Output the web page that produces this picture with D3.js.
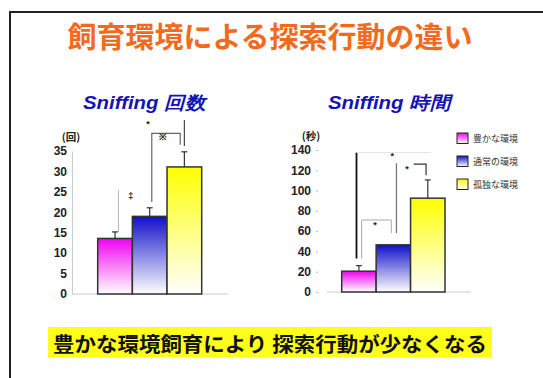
<!DOCTYPE html>
<html><head><meta charset="utf-8">
<script src="https://cdn.jsdelivr.net/npm/d3@7"></script>
<style>
html,body{margin:0;padding:0;background:#fff;}
svg{display:block;}
</style></head>
<body>
<svg id="c" width="543" height="378"></svg>
<script>
// ---------- data ----------
const mainTitle = "飼育環境による探索行動の違い";
const conclusion = "豊かな環境飼育により 探索行動が少なくなる";
const groups = ["豊かな環境", "通常の環境", "孤独な環境"];
const countTitle = "Sniffing 回数";
const countUnit = "(回)";
const countValues = [13.6, 19.0, 31.1];
const countErrors = [1.6, 2.1, 3.7];
const countTicks = [0, 5, 10, 15, 20, 25, 30, 35];
const timeTitle = "Sniffing 時間";
const timeUnit = "(秒)";
const timeValues = [20.5, 46.5, 92.5];
const timeErrors = [5.5, 0, 18];
const timeTicks = [0, 20, 40, 60, 80, 100, 120, 140];
// significance annotations: polyline points [groupIndex, fractionWithinBar, value]
const countLines = [
  {pts: [[0, 0.6, 15.2], [0, 0.6, 25.5]], c: "#bbb", w: 1},
  {pts: [[1, 0.56, 22.5], [1, 0.56, 39.3], [2, 0.38, 39.3], [2, 0.38, 36.5]], c: "#666", w: 1.2},
  {pts: [[2, 0.5, 36.2], [2, 0.5, 42.6]], c: "#444", w: 1.2}
];
const countMarks = [[0, 0.95, 24.0, "‡"], [1, 0.45, 41.6, "*"], [1, 0.89, 38.4, "※"]];
const timeLines = [
  {pts: [[0, 0.43, 33], [0, 0.43, 137.5]], c: "#111", w: 1.8},
  {pts: [[0, 0.43, 137.5], [2, 0.58, 137.5]], c: "#e4e4e4", w: 1},
  {pts: [[0, 0.58, 33], [0, 0.58, 71], [1, 0.44, 71], [1, 0.44, 58]], c: "#aaa", w: 1},
  {pts: [[1, 0.59, 58], [1, 0.59, 127]], c: "#777", w: 1.3},
  {pts: [[2, 0.09, 126], [2, 0.45, 126], [2, 0.45, 115]], c: "#333", w: 1.2}
];
const timeMarks = [[0, 0.97, 66, "*"], [1, 0.47, 134, "*"], [1, 0.9, 121, "*"]];
const colors = ["#f000f0", "#1010c8", "#ffff00"];

// ---------- drawing ----------
const svg = d3.select("#c");
const defs = svg.append("defs");
colors.forEach((c, i) => {
  const g = defs.append("linearGradient").attr("id", "g" + i)
    .attr("x1", 0).attr("y1", 0).attr("x2", 0).attr("y2", 1);
  g.append("stop").attr("offset", "0%").attr("stop-color", c);
  g.append("stop").attr("offset", "100%").attr("stop-color", "#ffffff");
});

// frame
svg.append("path").attr("d", "M10,378 L10,12 L543,12")
  .attr("fill", "none").attr("stroke", "#222").attr("stroke-width", 2);

svg.append("text").attr("x", 270).attr("y", 48).attr("text-anchor", "middle")
  .attr("font-family", "'Noto Sans CJK JP'").attr("font-weight", "bold")
  .attr("font-size", 29).attr("fill", "#f26a1e").text(mainTitle);

const numFont = "'Liberation Sans', Arial, sans-serif";

function chart(o) {
  const x = d3.scaleBand().domain(d3.range(groups.length)).range(o.xr).padding(0);
  const y = d3.scaleLinear().domain([0, o.ticks[o.ticks.length - 1]]).range(o.yr);
  const g = svg.append("g");
  const px = (p) => x(p[0]) + p[1] * x.bandwidth();

  g.append("text").attr("x", o.titleX).attr("y", 109).attr("text-anchor", "middle")
    .attr("font-family", numFont).attr("font-style", "italic").attr("font-weight", "bold")
    .attr("font-size", 18).attr("fill", "#1414b4")
    .attr("textLength", 122).attr("lengthAdjust", "spacingAndGlyphs").text(o.title);

  // axes
  const ax = d3.axisLeft(y).tickValues(o.ticks).tickSize(o.tickSize).tickPadding(o.tickPad);
  const ag = g.append("g").attr("transform", `translate(${o.axisX},0)`).call(ax);
  ag.select(".domain").attr("stroke", o.showDomain ? "#ccc" : "none");
  ag.selectAll(".tick line").attr("stroke", "#bbb");
  ag.selectAll(".tick text").attr("font-family", numFont).attr("font-weight", "bold")
    .attr("font-size", 12).attr("fill", "#222");
  g.append("line").attr("x1", o.baseX[0]).attr("x2", o.baseX[1])
    .attr("y1", y(0)).attr("y2", y(0)).attr("stroke", "#ccc");
  g.append("text").attr("x", o.unitX).attr("y", y(o.ticks[o.ticks.length - 1]) - 10)
    .attr("text-anchor", "middle").attr("font-family", "'Noto Sans CJK JP'")
    .attr("font-weight", "bold").attr("font-size", 10.5).attr("fill", "#222").text(o.unit);

  // annotation lines
  o.lines.forEach(l => {
    g.append("path").attr("d", d3.line().x(px).y(p => y(p[2]))(l.pts))
      .attr("fill", "none").attr("stroke", l.c).attr("stroke-width", l.w);
  });
  o.marks.forEach(m => {
    g.append("text").attr("x", px(m)).attr("y", y(m[2])).attr("text-anchor", "middle")
      .attr("dominant-baseline", "central").attr("font-family", numFont)
      .attr("font-weight", "bold").attr("font-size", 9).attr("fill", "#222").text(m[3]);
  });

  // error bars
  o.values.forEach((v, i) => {
    if (!o.errors[i]) return;
    const cx = x(i) + x.bandwidth() / 2;
    g.append("line").attr("x1", cx).attr("x2", cx).attr("y1", y(v)).attr("y2", y(v + o.errors[i]))
      .attr("stroke", "#333").attr("stroke-width", 1.2);
    g.append("line").attr("x1", cx - 3).attr("x2", cx + 3)
      .attr("y1", y(v + o.errors[i])).attr("y2", y(v + o.errors[i]))
      .attr("stroke", "#333").attr("stroke-width", 1.2);
  });
  // bars
  g.selectAll("rect.bar").data(o.values).join("rect").attr("class", "bar")
    .attr("x", (d, i) => x(i)).attr("width", x.bandwidth())
    .attr("y", d => y(d)).attr("height", d => y(0) - y(d))
    .attr("fill", (d, i) => `url(#g${i})`).attr("stroke", "#333").attr("stroke-width", 1.5);
}

chart({xr: [97.7, 201.7], yr: [294, 151], ticks: countTicks, values: countValues,
  errors: countErrors, title: countTitle, titleX: 144, unit: countUnit, unitX: 71,
  axisX: 72, tickSize: 0, tickPad: 5, showDomain: true, baseX: [72, 228],
  lines: countLines, marks: countMarks});
chart({xr: [341.7, 445], yr: [292, 150], ticks: timeTicks, values: timeValues,
  errors: timeErrors, title: timeTitle, titleX: 389, unit: timeUnit, unitX: 311,
  axisX: 318, tickSize: 2, tickPad: 5, showDomain: false, baseX: [327, 471],
  lines: timeLines, marks: timeMarks});

// legend
const lg = svg.append("g");
groups.forEach((name, i) => {
  const yy = 133 + i * 23;
  lg.append("rect").attr("x", 457).attr("y", yy).attr("width", 11).attr("height", 10.5)
    .attr("fill", `url(#g${i})`).attr("stroke", "#222").attr("stroke-width", 1);
  lg.append("text").attr("x", 473).attr("y", yy + 5.5).attr("dominant-baseline", "central")
    .attr("font-family", "'Noto Sans CJK JP'").attr("font-size", 9).attr("fill", "#333").text(name);
});

// conclusion banner
svg.append("rect").attr("x", 48).attr("y", 327).attr("width", 444).attr("height", 30)
  .attr("fill", "#ffff1a");
svg.append("text").attr("x", 270).attr("y", 343).attr("text-anchor", "middle")
  .attr("dominant-baseline", "central").attr("font-family", "'Noto Sans CJK JP'")
  .attr("font-weight", "bold").attr("font-size", 20.5).attr("fill", "#111")
  .attr("textLength", 434).attr("lengthAdjust", "spacingAndGlyphs").text(conclusion);
</script>
</body></html>
